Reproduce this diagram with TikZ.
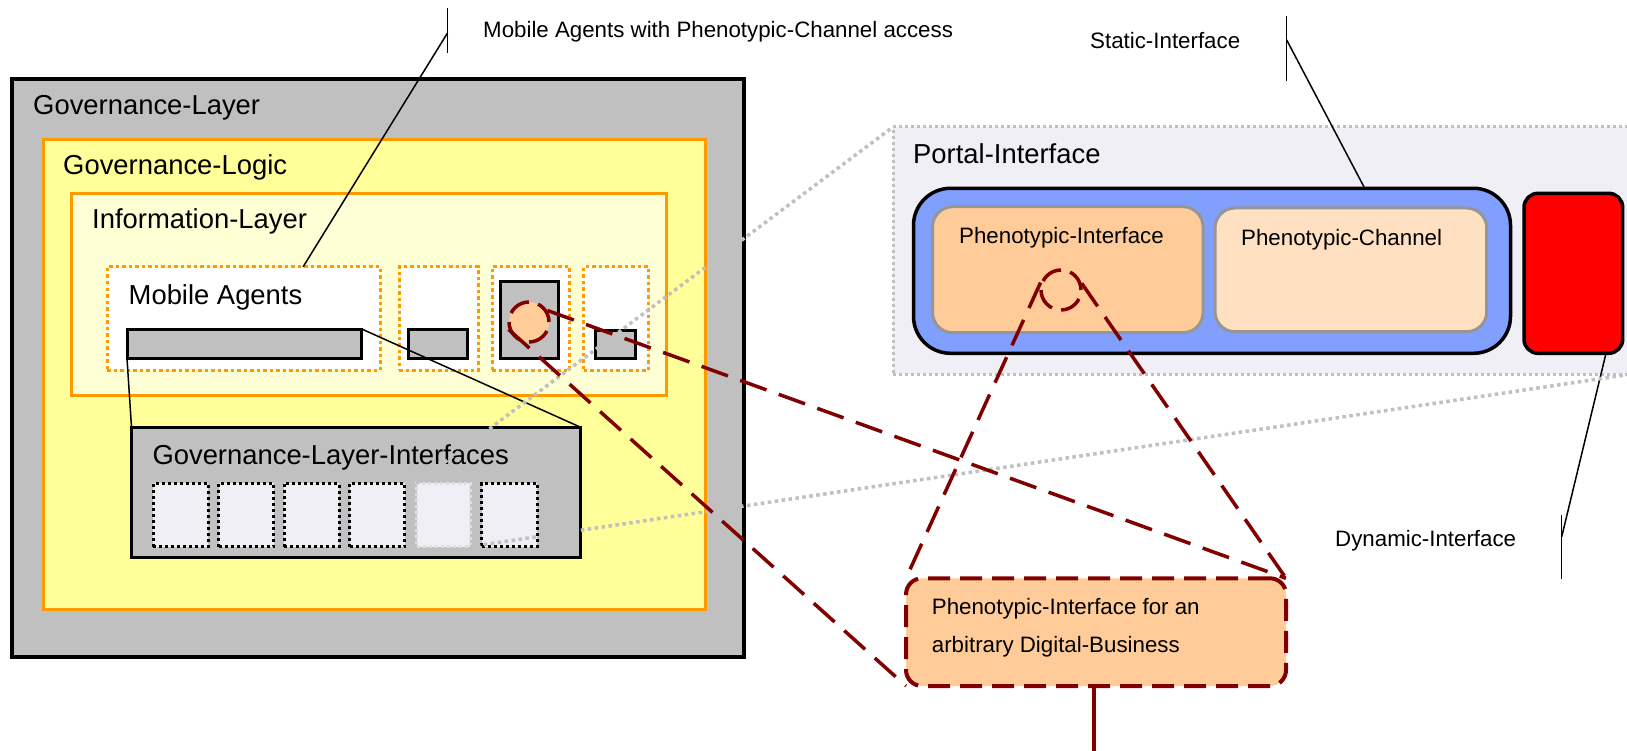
\documentclass[tikz,border=0pt]{standalone}
\usepackage{fontspec}
\setmainfont{Liberation Sans}
\definecolor{glgray}{RGB}{192,192,192}
\definecolor{logicyel}{RGB}{255,255,153}
\definecolor{infoyel}{RGB}{255,255,214}
\definecolor{orng}{RGB}{255,153,0}
\definecolor{portalbg}{RGB}{239,239,245}
\definecolor{dotgray}{RGB}{192,192,192}
\definecolor{lightdot}{RGB}{222,222,226}
\definecolor{blueif}{RGB}{128,159,255}
\definecolor{peach}{RGB}{255,204,153}
\definecolor{lightpeach}{RGB}{255,224,192}
\definecolor{bordgray}{RGB}{150,150,150}
\definecolor{darkred}{RGB}{128,0,0}
\newcommand{\dbox}[6]{\node[box,#2,minimum width=#5pt,minimum height=#6pt] (#1) at (#3,#4) {};}
\begin{document}
\begin{tikzpicture}[x=1pt,y=-1pt,
  big/.style={font=\fontsize{27.4}{33}\selectfont, anchor=base west, inner sep=0pt},
  small/.style={font=\fontsize{22.3}{27}\selectfont, anchor=base west, inner sep=0pt},
  box/.style={anchor=north west, inner sep=0pt, outer sep=0pt, rectangle},
  outerbox/.style={fill=glgray, draw=black, line width=3.5pt},
  logicbox/.style={fill=logicyel, draw=orng, line width=3pt},
  infobox/.style={fill=infoyel, draw=orng, line width=3pt},
  agentbox/.style={fill=white, draw=orng, line width=3pt, dash pattern=on 3.5pt off 3pt},
  grayrect/.style={fill=glgray, draw=black, line width=3pt},
  sqbox/.style={fill=portalbg, draw=black, line width=3pt, dash pattern=on 3pt off 3pt},
  sqlight/.style={fill=portalbg, draw=lightdot, line width=3pt, dash pattern=on 3pt off 3pt},
  portalbox/.style={fill=portalbg, draw=dotgray, line width=3pt, dash pattern=on 3pt off 3pt},
  staticbox/.style={fill=blueif, draw=black, line width=3.5pt, rounded corners=37pt},
  pibox/.style={fill=peach, draw=bordgray, line width=3pt, rounded corners=20pt},
  pcbox/.style={fill=lightpeach, draw=bordgray, line width=3pt, rounded corners=20pt},
  dynbox/.style={fill=red, draw=black, line width=3.5pt, rounded corners=14pt},
  zoomcirc/.style={circle, inner sep=0pt, minimum size=40pt, draw=darkred, line width=3.5pt, dash pattern=on 22pt off 9.4pt},
  bizbox/.style={fill=peach, draw=darkred, line width=4pt, dash pattern=on 22pt off 10pt, rounded corners=16pt},
  leader/.style={draw=black, line width=1.5pt},
  zoomline/.style={draw=darkred, line width=3.5pt, dash pattern=on 28pt off 13pt},
  grayzoom/.style={draw=dotgray, line width=3.5pt, dash pattern=on 3.5pt off 3.5pt}
]
\useasboundingbox (0,0) rectangle (1627,751);
\clip (0,0) rectangle (1627,751);
\fill[white] (0,0) rectangle (1627,751);

% left block
\dbox{gl}{outerbox}{12}{79}{732}{578}
\dbox{logic}{logicbox}{43.6}{139.3}{661.7}{470}
\dbox{info}{infobox}{71.7}{194}{595}{201}
\dbox{mabox}{agentbox}{107}{267}{273}{103}
\dbox{ab2}{agentbox}{399}{267}{79.4}{103}
\dbox{ab3}{agentbox}{492}{267}{77.5}{103}
\dbox{ab4}{agentbox}{583.7}{267}{65}{103}
\dbox{bar}{grayrect}{127}{329}{234.7}{29.3}
\dbox{r2}{grayrect}{408.8}{329}{58.2}{29.3}
\dbox{r3}{grayrect}{500.6}{281.7}{58.2}{76.6}
\dbox{r4}{grayrect}{595}{330}{40.4}{28.3}
\node[zoomcirc, fill=peach] (c3) at (529,322) {};

\dbox{gli}{grayrect}{131.5}{427}{448.5}{130.3}
\dbox{sq1}{sqbox}{153.3}{483.3}{55}{63.4}
\dbox{sq2}{sqbox}{218.5}{483.3}{55}{63.4}
\dbox{sq3}{sqbox}{284}{483.3}{55}{63.4}
\dbox{sq4}{sqbox}{349.5}{483.3}{55}{63.4}
\dbox{sq5}{sqlight}{416.5}{483.3}{53.5}{63.4}
\dbox{sq6}{sqbox}{481.7}{483.3}{55.5}{63.4}

% right block
\dbox{portal}{portalbox}{893}{127}{739}{247}
\dbox{static}{staticbox}{913.5}{188.3}{597}{165}
\dbox{pi}{pibox}{932.6}{206.7}{270.4}{126}
\dbox{pc}{pcbox}{1215}{208}{271.7}{123.7}
\dbox{dyn}{dynbox}{1524}{193.3}{98.7}{160}
\node[zoomcirc] (pcirc) at (1061,290) {};

\dbox{biz}{bizbox}{906}{578.3}{380}{107.7}

% texts
\node[big] (tgl) at (33,115) {Governance-Layer};
\node[big] (tlogic) at (63,175) {Governance-Logic};
\node[big] (tinfo) at (92,229) {Information-Layer};
\node[big] (tma) at (128.5,304) {Mobile Agents};
\node[big] (tgli) at (152.3,464) {Governance-Layer-Interfaces};
\node[big] (tportal) at (913,164) {Portal-Interface};
\node[small] (tpi) at (959,244) {Phenotypic-Interface};
\node[small] (tpc) at (1241,245.7) {Phenotypic-Channel};
\node[small] (tstatic) at (1090,48.3) {Static-Interface};
\node[small] (tmac) at (483,37.5) {Mobile Agents with Phenotypic-Channel access};
\node[small] (tdyn) at (1335,546) {Dynamic-Interface};
\node[small] (tbiz1) at (931.7,614.3) {Phenotypic-Interface for an};
\node[small] (tbiz2) at (931.7,652.7) {arbitrary Digital-Business};

% leaders
\coordinate (t1a) at (447.5,8);
\coordinate (t1b) at (447.5,53);
\coordinate (t1m) at (447.5,33);
\coordinate (mat) at (303,267);
\draw[leader] (t1a) -- (t1b);
\draw[leader] (t1m) -- (mat);
\coordinate (t2a) at (1286.7,16);
\coordinate (t2b) at (1286.7,80.7);
\coordinate (t2m) at (1286.7,40);
\coordinate (stt) at (1364.7,188.3);
\draw[leader] (t2a) -- (t2b);
\draw[leader] (t2m) -- (stt);
\coordinate (t3a) at (1561.7,515);
\coordinate (t3b) at (1561.7,579);
\coordinate (t3m) at (1561.7,536.7);
\coordinate (dyb) at (1606,353.3);
\draw[leader] (t3a) -- (t3b);
\draw[leader] (t3m) -- (dyb);
\draw[leader] (bar.south west) -- (gli.north west);
\draw[leader] (bar.north east) -- (gli.north east);

% gray zoom lines
\draw[grayzoom] (sq5.north west) -- (portal.north west);
\draw[grayzoom] (sq5.south east) -- (portal.south east);

% red zoom lines
\draw[zoomline] (c3.32) -- (biz.north east);
\draw[zoomline] (c3.200) -- (biz.south west);
\draw[zoomline] (pcirc.160) -- (biz.north west);
\draw[zoomline] (pcirc.18) -- (biz.north east);
\coordinate (bizend) at (1094.3,751);
\draw[draw=darkred, line width=4pt] (biz.south -| bizend) -- (bizend);
\end{tikzpicture}
\end{document}
